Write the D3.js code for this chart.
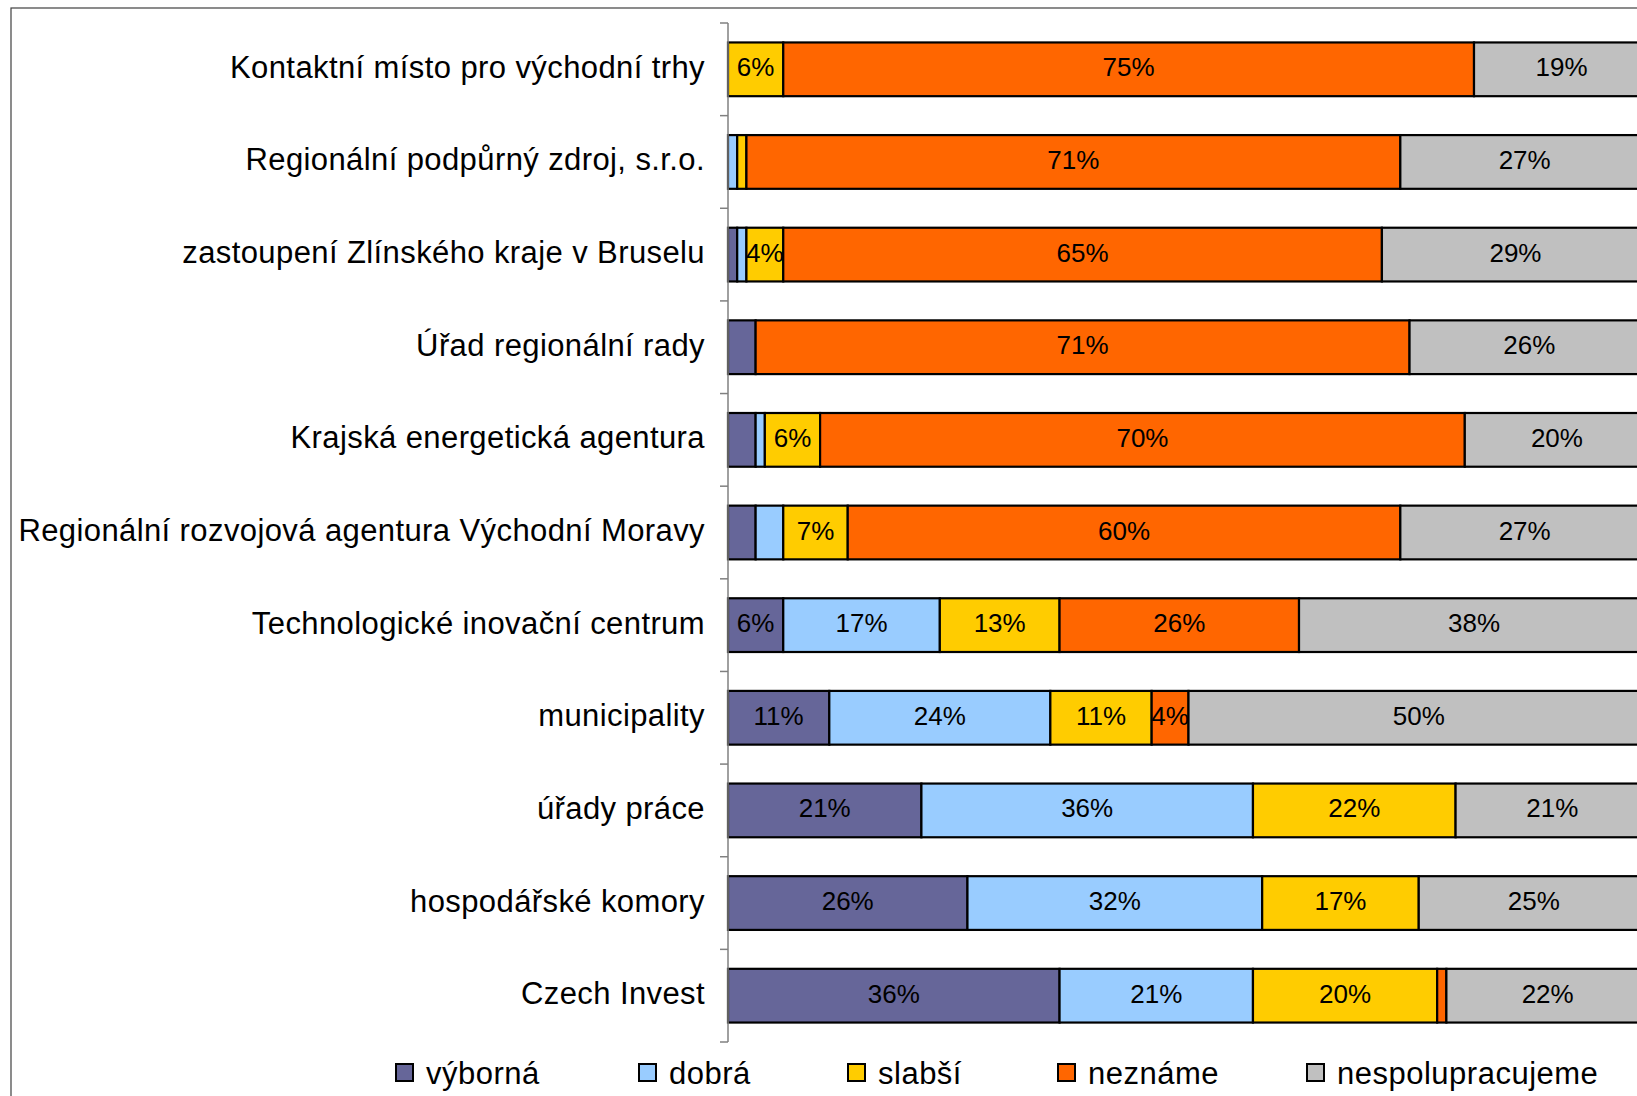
<!DOCTYPE html>
<html>
<head>
<meta charset="utf-8">
<script src="https://cdn.jsdelivr.net/npm/d3@7"></script>
<style>
  html, body { margin: 0; padding: 0; background: #fff; }
  svg { display: block; font-family: "Liberation Sans", Arial, sans-serif; }
</style>
</head>
<body>
<svg id="chart" width="1637" height="1096"></svg>
<script>
const categories = [
  "Kontaktní místo pro východní trhy",
  "Regionální podpůrný zdroj, s.r.o.",
  "zastoupení Zlínského kraje v Bruselu",
  "Úřad regionální rady",
  "Krajská energetická agentura",
  "Regionální rozvojová agentura Východní Moravy",
  "Technologické inovační centrum",
  "municipality",
  "úřady práce",
  "hospodářské komory",
  "Czech Invest"
];
const seriesNames = ["výborná", "dobrá", "slabší", "neznáme", "nespolupracujeme"];
const vyborna  = [0, 0, 1, 3, 3, 3, 6, 11, 21, 26, 36];
const dobra    = [0, 1, 1, 0, 1, 3, 17, 24, 36, 32, 21];
const slabsi   = [6, 1, 4, 0, 6, 7, 13, 11, 22, 17, 20];
const nezname  = [75, 71, 65, 71, 70, 60, 26, 4, 0, 0, 1];
const nespol   = [19, 27, 29, 26, 20, 27, 38, 50, 21, 25, 22];
const colors = ["#666699", "#99CCFF", "#FFCC00", "#FF6600", "#C0C0C0"];

const seriesValues = [vyborna, dobra, slabsi, nezname, nespol];
const rows = categories.map((c, i) => {
  const o = { cat: c };
  seriesNames.forEach((s, k) => o[s] = seriesValues[k][i]);
  return o;
});

const svg = d3.select("#chart");

// outer frame (cropped at right and bottom)
svg.append("rect")
  .attr("x", 11).attr("y", 8)
  .attr("width", 1700).attr("height", 1200)
  .attr("fill", "none").attr("stroke", "#404040").attr("stroke-width", 1.2);

const x = d3.scaleLinear().domain([0, 100]).range([728, 1649]);
const y = d3.scaleBand().domain(categories).range([23, 1042])
  .paddingInner(0.42).paddingOuter(0.21);
const color = d3.scaleOrdinal().domain(seriesNames).range(colors);

const stack = d3.stack().keys(seriesNames);
const stacked = stack(rows);

const g = svg.append("g");
stacked.forEach(layer => {
  const key = layer.key;
  g.selectAll(null).data(layer.filter(d => d[1] - d[0] > 0)).enter()
    .append("rect")
    .attr("x", d => x(d[0]))
    .attr("y", d => y(d.data.cat))
    .attr("width", d => x(d[1]) - x(d[0]))
    .attr("height", y.bandwidth())
    .attr("fill", color(key))
    .attr("stroke", "#000")
    .attr("stroke-width", 2.2);
});

// data labels
stacked.forEach(layer => {
  g.selectAll(null).data(layer.filter(d => d[1] - d[0] >= 4)).enter()
    .append("text")
    .attr("x", d => (x(d[0]) + x(d[1])) / 2)
    .attr("y", d => y(d.data.cat) + y.bandwidth() / 2 - 2)
    .attr("text-anchor", "middle")
    .attr("dominant-baseline", "central")
    .attr("font-size", 26)
    .attr("fill", "#000")
    .text(d => (d[1] - d[0]) + "%");
});

// axis line and ticks
const ax = svg.append("g");
const x0 = x(0);
const [r0, r1] = y.range();
ax.append("line").attr("x1", x0).attr("x2", x0).attr("y1", r0).attr("y2", r1)
  .attr("stroke", "#808080").attr("stroke-width", 1.5);
d3.range(categories.length + 1).forEach(i => {
  const ty = r0 + i * y.step();
  ax.append("line").attr("x1", x0 - 8).attr("x2", x0).attr("y1", ty).attr("y2", ty)
    .attr("stroke", "#808080").attr("stroke-width", 1.5);
});

// category labels
svg.append("g").selectAll("text").data(categories).enter()
  .append("text")
  .attr("x", 705)
  .attr("y", d => y(d) + y.bandwidth() / 2 - 2)
  .attr("text-anchor", "end")
  .attr("dominant-baseline", "central")
  .attr("font-size", 31)
  .attr("letter-spacing", 0.4)
  .attr("fill", "#000")
  .text(d => d);

// legend
const legendX = [396, 639, 848, 1058, 1307];
const lg = svg.append("g");
seriesNames.forEach((s, i) => {
  lg.append("rect")
    .attr("x", legendX[i]).attr("y", 1064)
    .attr("width", 17).attr("height", 17)
    .attr("fill", color(s)).attr("stroke", "#000").attr("stroke-width", 2);
  lg.append("text")
    .attr("x", legendX[i] + 30).attr("y", 1073)
    .attr("dominant-baseline", "central")
    .attr("font-size", 31)
    .attr("letter-spacing", 0.5)
    .attr("fill", "#000")
    .text(s);
});
</script>
</body>
</html>
